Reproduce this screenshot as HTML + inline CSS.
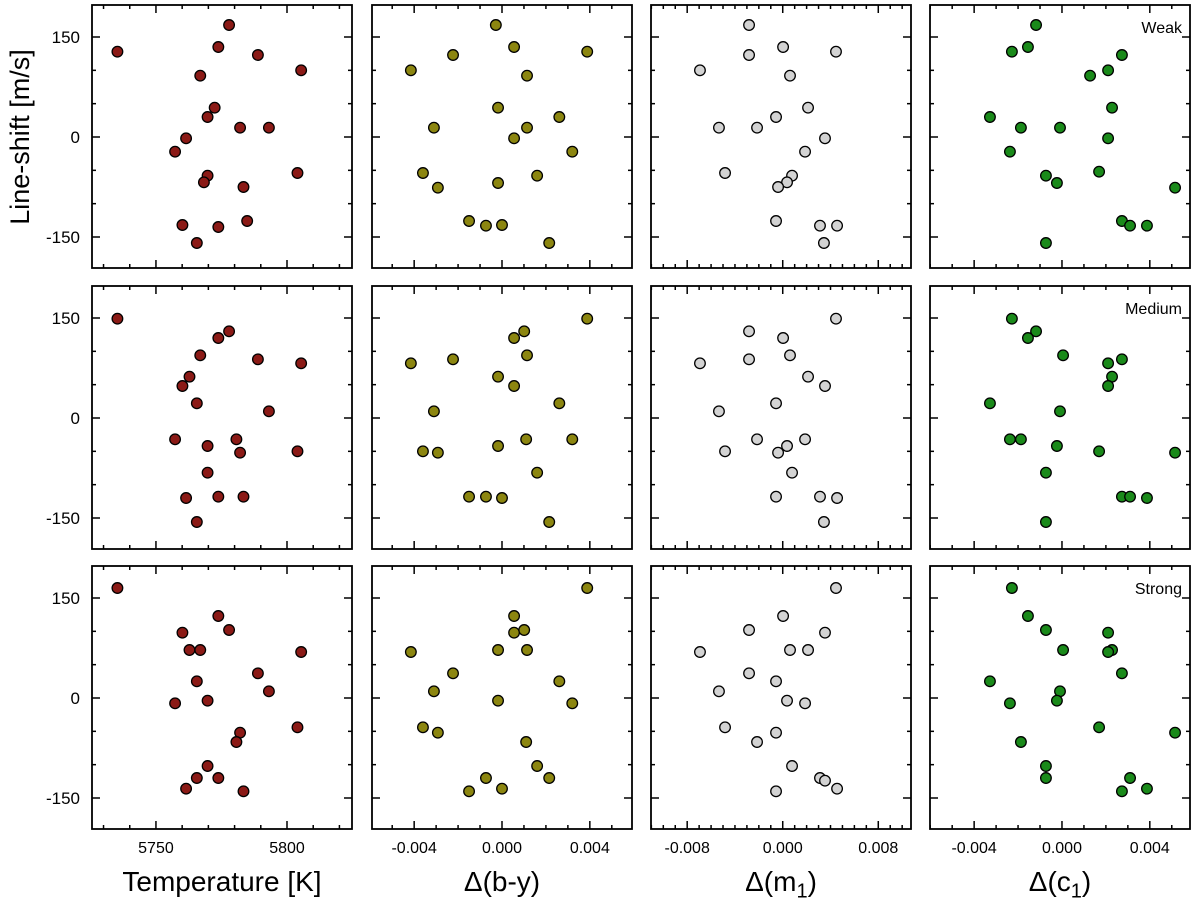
<!DOCTYPE html>
<html><head><meta charset="utf-8">
<style>
html,body{margin:0;padding:0;background:#fff;}
svg{display:block;font-family:"Liberation Sans",Arial,sans-serif;}
</style></head>
<body>
<svg id="chart" width="1200" height="912" viewBox="0 0 1200 912" xmlns="http://www.w3.org/2000/svg"></svg>
<script>
// ---------- data ----------
// Temperature [K]
const tempWeakX  = [5735.3,5777.9,5773.8,5788.9,5805.4,5766.9,5772.4,5769.7,5761.5,5782.1,5793.1,5757.3,5769.7,5768.3,5783.4,5804.0,5784.8,5760.1,5773.8,5765.6];
const tempWeakY  = [128,168,135,123,100,92,44,30,-2,14,14,-22,-58,-68,-75,-54,-126,-132,-135,-159];
const tempMedX   = [5735.3,5777.9,5773.8,5788.9,5805.4,5766.9,5762.8,5760.1,5765.6,5793.1,5757.3,5769.7,5780.7,5782.1,5804.0,5769.7,5761.5,5773.8,5783.4,5765.6];
const tempMedY   = [149,130,120,88,82,94,62,48,22,10,-32,-42,-32,-52,-50,-82,-120,-118,-118,-156];
const tempStrX   = [5735.3,5773.8,5777.9,5760.1,5762.8,5766.9,5805.4,5788.9,5765.6,5793.1,5757.3,5769.7,5804.0,5782.1,5780.7,5769.7,5765.6,5773.8,5761.5,5783.4];
const tempStrY   = [165,123,102,98,72,72,69,37,25,10,-8,-4,-44,-52,-66,-102,-120,-120,-136,-140];
// Δ(b-y) in units of 0.001
const byWeakX = [-0.28,0.55,-2.23,3.88,-4.15,1.14,-0.18,2.61,-3.1,1.14,0.55,3.2,-3.6,1.6,-0.18,-2.92,-1.5,-0.73,0,2.15];
const byWeakY = [168,135,123,128,100,92,44,30,14,14,-2,-22,-54,-58,-69,-76,-126,-133,-132,-159];
const byMedX  = [3.88,1.01,0.55,-4.15,-2.23,1.14,-0.18,0.55,2.61,-3.1,3.2,1.1,-3.6,-2.92,-0.18,1.6,-1.5,-0.73,0,2.15];
const byMedY  = [149,130,120,82,88,94,62,48,22,10,-32,-32,-50,-52,-42,-82,-118,-118,-120,-156];
const byStrX  = [3.88,0.55,0.55,1.01,-4.15,-0.18,1.14,-2.23,2.61,-3.1,-0.18,3.2,-3.6,-2.92,1.1,1.6,-0.73,2.15,-1.5,0];
const byStrY  = [165,123,98,102,69,72,72,37,25,10,-4,-8,-44,-52,-66,-102,-120,-120,-140,-136];
// Δ(m1) in units of 0.001
const m1WeakX = [-2.82,0.03,4.46,-2.82,-6.93,0.61,2.12,-0.56,-5.34,-2.15,3.54,1.87,-4.83,0.78,0.36,-0.39,-0.56,3.12,4.55,3.45];
const m1WeakY = [168,135,128,123,100,92,44,30,14,14,-2,-22,-54,-58,-68,-75,-126,-133,-133,-159];
const m1MedX  = [4.46,-2.82,0.03,-6.93,-2.82,0.61,2.12,3.54,-0.56,-5.34,-2.15,1.87,-4.83,0.36,-0.39,0.78,-0.56,3.12,4.55,3.45];
const m1MedY  = [149,130,120,82,88,94,62,48,22,10,-32,-32,-50,-42,-52,-82,-118,-118,-120,-156];
const m1StrX  = [4.46,0.03,-2.82,3.54,-6.93,0.61,2.12,-2.82,-0.56,-5.34,0.36,1.87,-4.83,-0.56,-2.15,0.78,3.12,3.54,4.55,-0.56];
const m1StrY  = [165,123,102,98,69,72,72,37,25,10,-4,-8,-44,-52,-66,-102,-120,-124,-136,-140];
// Δ(c1) in units of 0.001
const c1WeakX = [-1.18,-1.55,-2.28,2.73,2.1,1.28,2.28,-3.28,-1.87,-0.09,2.1,-2.37,1.69,-0.73,-0.23,5.15,2.73,3.1,3.87,-0.73];
const c1WeakY = [168,135,128,123,100,92,44,30,14,14,-2,-22,-52,-58,-69,-76,-126,-133,-133,-159];
const c1MedX  = [-2.28,-1.18,-1.55,0.05,2.73,2.1,2.28,2.1,-3.28,-0.09,-2.37,-1.87,-0.23,1.69,5.15,-0.73,2.73,3.1,3.87,-0.73];
const c1MedY  = [149,130,120,94,88,82,62,48,22,10,-32,-32,-42,-50,-52,-82,-118,-118,-120,-156];
const c1StrX  = [-2.28,-1.55,-0.73,2.1,0.05,2.28,2.1,2.73,-3.28,-0.09,-2.37,-0.23,1.69,5.15,-1.87,-0.73,-0.73,3.1,2.73,3.87];
const c1StrY  = [165,123,102,98,72,72,69,37,25,10,-8,-4,-44,-52,-66,-102,-120,-120,-140,-136];

const yTicks = [150,0,-150];
const yMinorStep = 50;
const tempTicks = [5750,5800];
const tempTickLabels = ["5750","5800"];
const byTicks = [-4,0,4];
const byTickLabels = ["-0.004","0.000","0.004"];
const m1Ticks = [-8,0,8];
const m1TickLabels = ["-0.008","0.000","0.008"];
const c1Ticks = [-4,0,4];
const c1TickLabels = ["-0.004","0.000","0.004"];
const rowNames = ["Weak","Medium","Strong"];

// ---------- layout ----------
const NS = "http://www.w3.org/2000/svg";
const svg = document.getElementById("chart");
function mk(tag, attrs, parent){const e=document.createElementNS(NS,tag);for(const k in attrs)e.setAttribute(k,attrs[k]);(parent||svg).appendChild(e);return e;}

const colL = [92,372,651,930], colW = 260;
const rowT = [5,286,566], rowH = 263;
const yMin = -196.5, yMax = 198;
const cols = [
 {key:"temperature", min:5725.6, max:5824.8, ticks:tempTicks, labels:tempTickLabels, minor:10, color:"#8b1a16",
  data:[[tempWeakX,tempWeakY],[tempMedX,tempMedY],[tempStrX,tempStrY]]},
 {key:"delta-b-y", min:-5.92, max:5.92, ticks:byTicks, labels:byTickLabels, minor:1, color:"#8c8610",
  data:[[byWeakX,byWeakY],[byMedX,byMedY],[byStrX,byStrY]]},
 {key:"delta-m1", min:-11.03, max:10.74, ticks:m1Ticks, labels:m1TickLabels, minor:1, color:"#d3d3d3",
  data:[[m1WeakX,m1WeakY],[m1MedX,m1MedY],[m1StrX,m1StrY]]},
 {key:"delta-c1", min:-6.01, max:5.83, ticks:c1Ticks, labels:c1TickLabels, minor:1, color:"#1a8a1a",
  data:[[c1WeakX,c1WeakY],[c1MedX,c1MedY],[c1StrX,c1StrY]]}
];

for(let r=0;r<3;r++){
 for(let c=0;c<4;c++){
  const C = cols[c], L = colL[c], T = rowT[r];
  const sx = v => L + (v - C.min)/(C.max - C.min)*colW;
  const sy = v => T + (yMax - v)/(yMax - yMin)*rowH;
  const g = mk("g",{});
  
  
  // minor y ticks
  for(let v=Math.ceil(yMin/yMinorStep)*yMinorStep; v<=yMax; v+=yMinorStep){
   const y = sy(v), len = (v%150===0)?8:4;
   mk("line",{x1:L,x2:L+len,y1:y,y2:y,stroke:"#000","stroke-width":1.5},g);
   mk("line",{x1:L+colW-len,x2:L+colW,y1:y,y2:y,stroke:"#000","stroke-width":1.5},g);
  }
  // minor x ticks
  const st = C.minor;
  for(let k=Math.ceil(C.min/st); k*st<=C.max; k++){
   const v = k*st;
   const isMajor = C.ticks.some(t=>Math.abs(t-v)<1e-6);
   const x = sx(v), len = isMajor?8:4;
   mk("line",{x1:x,x2:x,y1:T+rowH-len,y2:T+rowH,stroke:"#000","stroke-width":1.5},g);
   mk("line",{x1:x,x2:x,y1:T,y2:T+len,stroke:"#000","stroke-width":1.5},g);
  }
  const frame = mk("rect",{x:L,y:T,width:colW,height:rowH,fill:"none",stroke:"#000","stroke-width":1.8},g);
  
  
  if(c===0){
   yTicks.forEach(t=>{
    const tl = mk("text",{x:L-12,y:sy(t)+6,"text-anchor":"end","font-size":17,fill:"#000"},g);
    tl.textContent = String(t);
    
    
   });
  }
  if(r===2){
   C.ticks.forEach((t,i)=>{
    const tl = mk("text",{x:sx(t),y:T+rowH+24,"text-anchor":"middle","font-size":16,fill:"#000"},g);
    tl.textContent = C.labels[i];
    
    
   });
  }
  // points
  const xs = C.data[r][0], ys = C.data[r][1];
  for(let i=0;i<xs.length;i++){
   const p = mk("circle",{cx:sx(xs[i]),cy:sy(ys[i]),r:5.3,fill:C.color,stroke:"#000","stroke-width":1.3},g);
   
   
  }
  if(c===3){
   const lab = mk("text",{x:L+colW-8,y:T+28,"text-anchor":"end","font-size":16,fill:"#000"},g);
   lab.textContent = rowNames[r];
   
   
  }
 }
}
</script>
<div style="position:absolute;left:0;top:0;width:1200px;height:912px;pointer-events:none;font-family:'Liberation Sans',Arial,sans-serif;">
 <div style="position:absolute;left:-80px;top:120px;width:200px;height:34px;line-height:34px;text-align:center;font-size:27px;transform:rotate(-90deg);transform-origin:100px 17px;">Line-shift [m/s]</div>
 <div style="position:absolute;left:92px;top:866px;width:260px;text-align:center;font-size:28px;">Temperature [K]</div>
 <div style="position:absolute;left:372px;top:866px;width:260px;text-align:center;font-size:28px;">Δ(b-y)</div>
 <div style="position:absolute;left:651px;top:866px;width:260px;text-align:center;font-size:28px;">Δ(m<sub style="font-size:20px">1</sub>)</div>
 <div style="position:absolute;left:930px;top:866px;width:260px;text-align:center;font-size:28px;">Δ(c<sub style="font-size:20px">1</sub>)</div>
</div>
</body></html>
